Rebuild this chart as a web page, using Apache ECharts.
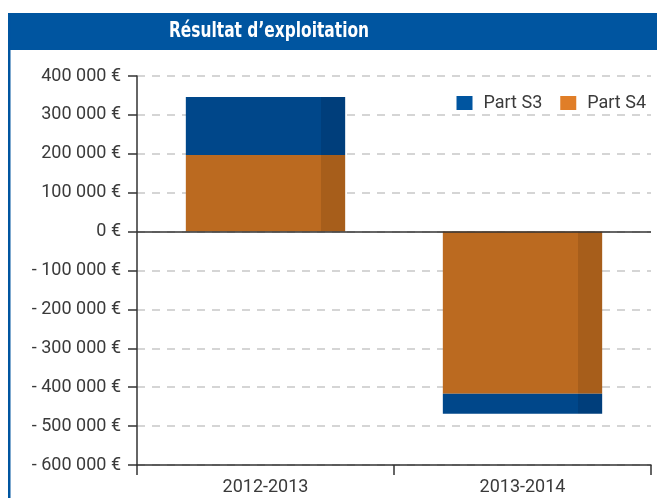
<!DOCTYPE html>
<html>
<head>
<meta charset="utf-8">
<script src="https://cdn.jsdelivr.net/npm/echarts@6/dist/echarts.min.js"></script>
<style>
  html, body { margin: 0; padding: 0; background: #fff; }
  #chart { width: 657px; height: 498px; }
</style>
</head>
<body>
<div id="chart"></div>
<script>
// données
const annees = ["2012-2013", "2013-2014"];
const partS3 = [149000, -51000];
const partS4 = [197000, -417000];
const titre = "Résultat d’exploitation";

const bleu = "#00478a", bleuFonce = "#003e7b";
const orange = "#bb6a20", orangeFonce = "#a75e1b";

// effet de relief : bande plus sombre à droite de la barre
function relief(c1, c2) {
    return new echarts.graphic.LinearGradient(0, 0, 1, 0, [
        { offset: 0, color: c1 },
        { offset: 0.849, color: c1 },
        { offset: 0.85, color: c2 },
        { offset: 1, color: c2 }
    ]);
}

function euros(v) {
    if (v === 0) return "0 €";
    const s = Math.abs(v).toString().replace(/\B(?=(\d{3})+(?!\d))/g, " ");
    return (v < 0 ? "- " : "") + s + " €";
}

const chart = echarts.init(document.getElementById("chart"));
const police = "Roboto, 'Liberation Sans', sans-serif";

chart.setOption({
    animation: false,
    graphic: [
        // cadre bleu + bandeau du titre
        { type: "rect", shape: { x: 8, y: 13, width: 700, height: 37 }, style: { fill: "#0055a0" } },
        { type: "rect", shape: { x: 8, y: 13, width: 2.5, height: 500 }, style: { fill: "#0055a0" } },
        {
            type: "text", x: 269, y: 31, scaleX: 0.78,
            style: {
                text: titre, fill: "#fff", align: "center", verticalAlign: "middle",
                font: "bold 22px 'DejaVu Sans Condensed', 'DejaVu Sans', sans-serif"
            }
        }
    ],
    legend: {
        right: 6, top: 89,
        itemWidth: 16, itemHeight: 14, itemGap: 18,
        icon: "rect",
        textStyle: { fontFamily: police, fontSize: 18, color: "#3a3a3a", padding: [0, 0, 0, 6] },
        data: [
            { name: "Part S3", itemStyle: { color: "#0055a0" } },
            { name: "Part S4", itemStyle: { color: "#e07e28" } }
        ]
    },
    grid: { left: 137, right: 6, top: 76, bottom: 33 },
    xAxis: {
        type: "category",
        data: annees,
        axisLine: { onZero: false, lineStyle: { color: "#333", width: 1.5 } },
        axisTick: { show: true, length: 10, inside: false, lineStyle: { color: "#333", width: 1.5 } },
        axisLabel: { fontFamily: police, fontSize: 18, color: "#3a3a3a", margin: 13 }
    },
    yAxis: {
        type: "value",
        min: -600000, max: 400000, interval: 100000,
        axisLine: { show: true, lineStyle: { color: "#333", width: 1.5 } },
        axisTick: { show: true, length: 9, lineStyle: { color: "#333", width: 1.5 } },
        axisLabel: { fontFamily: police, fontSize: 18, color: "#3a3a3a", margin: 16, formatter: euros },
        splitLine: { lineStyle: { color: "#c8c8c8", width: 1.5, type: [8, 7] } }
    },
    series: [
        {
            name: "Part S4", type: "bar", stack: "total", barWidth: "62%",
            data: partS4,
            itemStyle: { color: relief(orange, orangeFonce) },
            markLine: {
                silent: true, symbol: "none", label: { show: false },
                lineStyle: { color: "#333", width: 1.5, type: "solid" },
                data: [{ yAxis: 0 }]
            }
        },
        {
            name: "Part S3", type: "bar", stack: "total", barWidth: "62%",
            data: partS3,
            itemStyle: { color: relief(bleu, bleuFonce) }
        }
    ]
});
</script>
</body>
</html>
